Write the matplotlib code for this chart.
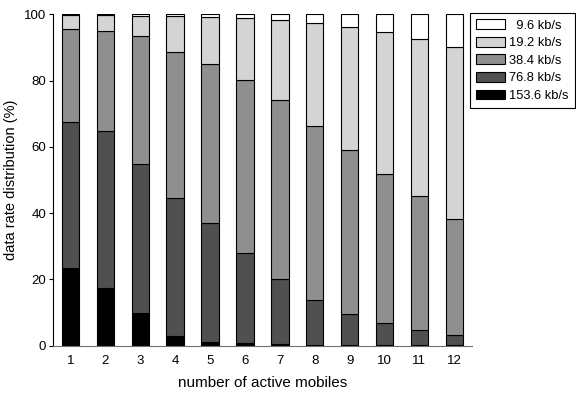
import matplotlib
matplotlib.use("Agg")
import matplotlib.pyplot as plt
import numpy as np

plt.rcParams['font.family'] = ['Liberation Sans', 'DejaVu Sans']

mobiles = np.arange(1, 13)
# percentage of each data rate, bottom (fastest) to top (slowest)
r153_6 = [23.5, 17.4, 9.9, 2.9, 1.2, 0.7, 0.5, 0.3, 0.2, 0.1, 0.1, 0.1]
r76_8 = [44.0, 47.5, 44.8, 41.6, 35.7, 27.4, 19.7, 13.5, 9.3, 6.6, 4.6, 3.0]
r38_4 = [28.0, 30.1, 38.6, 44.2, 48.1, 52.1, 54.0, 52.6, 49.4, 45.2, 40.3, 35.2]
r19_2 = [4.2, 4.7, 6.3, 10.7, 14.2, 18.7, 24.0, 31.0, 37.3, 42.7, 47.5, 51.7]
r9_6 = [100 - a - b - c - d for a, b, c, d in zip(r153_6, r76_8, r38_4, r19_2)]

series = [r153_6, r76_8, r38_4, r19_2, r9_6]
labels = ['153.6 kb/s', '76.8 kb/s', '38.4 kb/s', '19.2 kb/s', '  9.6 kb/s']
colors = ['#000000', '#505050', '#8f8f8f', '#d4d4d4', '#ffffff']

fig = plt.figure(figsize=(5.76, 3.95), dpi=100)
ax = fig.add_axes([0.092, 0.125, 0.727, 0.839])

bottom = np.zeros(len(mobiles))
handles = []
for vals, lab, col in zip(series, labels, colors):
    b = ax.bar(mobiles, vals, width=0.5, bottom=bottom, color=col,
               edgecolor='black', linewidth=0.8, label=lab)
    handles.append(b)
    bottom += np.array(vals)

ax.set_xlim(0.5, 12.5)
ax.set_ylim(0, 100)
ax.set_xticks(mobiles)
ax.set_yticks([0, 20, 40, 60, 80, 100])
ax.spines['top'].set_visible(False)
ax.spines['right'].set_visible(False)
ax.spines['bottom'].set_color('#707070')
ax.tick_params(axis='y', labelsize=9.5, length=3, direction='out', pad=2)
ax.tick_params(axis='x', labelsize=9.5, length=0, pad=7)
ax.set_xlabel('number of active mobiles', fontsize=11, labelpad=6)
ax.set_ylabel('data rate distribution (%)', fontsize=10.5)

leg = fig.legend(handles[::-1], labels[::-1], loc='upper left',
                 bbox_to_anchor=(470 / 576, 1 - 13 / 395), borderaxespad=0,
                 fontsize=9.3, frameon=True, fancybox=False,
                 edgecolor='black', framealpha=1,
                 handlelength=2.2, handleheight=0.78, labelspacing=0.4,
                 handletextpad=0.3, borderpad=0.5)
leg.get_frame().set_linewidth(0.8)

fig.savefig('out.png', dpi=100)
